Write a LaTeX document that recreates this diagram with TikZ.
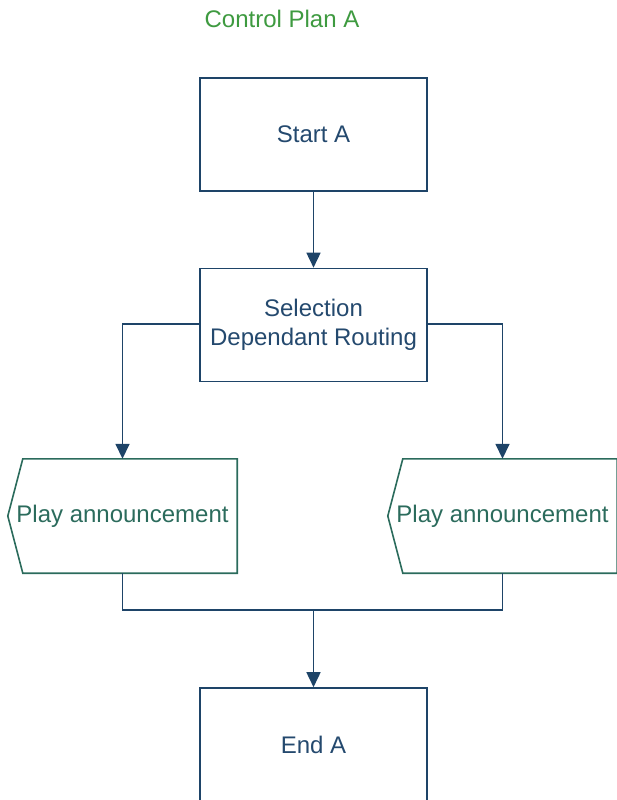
\documentclass[tikz,border=0pt]{standalone}
\usepackage{fontspec}
\setmainfont{Liberation Sans}
\usetikzlibrary{arrows.meta,calc}
\definecolor{navyline}{HTML}{1E4468}
\definecolor{navytext}{HTML}{24496E}
\definecolor{tealline}{HTML}{2B6B5C}
\definecolor{titlegreen}{HTML}{3E9A40}
\begin{document}
\begin{tikzpicture}[x=1pt,y=-1pt,
  lbl/.style={font=\fontsize{24}{29}\selectfont, align=center, inner sep=0pt},
  box/.style={lbl, draw=navyline, line width=1.6pt, text=navytext, minimum width=227pt, minimum height=113pt},
  playbox/.style={lbl, text=tealline, minimum width=229pt, minimum height=114pt},
  playline/.style={draw=tealline, line width=1.6pt, line join=miter},
  conn/.style={draw=navyline, line width=1.6pt},
  arr/.style={conn, -{Triangle[width=14pt,length=15pt]}}]
\useasboundingbox (0,0) rectangle (616,800);
\node[lbl, text=titlegreen] (title) at (282,19) {Control Plan A};
\node[box] (start) at (313.5,134.5) {Start A};
\node[box] (sel) at (313.5,325) {Selection\\Dependant Routing};
\node[box] (end) at (313.5,744.5) {End A};
\node[playbox] (pa) at (122.5,516) {Play announcement};
\node[playbox] (pb) at (502.5,516) {Play announcement};
\foreach \n in {pa,pb}{
  \draw[playline] (\n.north east) -- ([xshift=15pt]\n.north west) -- (\n.west)
     -- ([xshift=15pt]\n.south west) -- (\n.south east) -- cycle;
}
\coordinate (selL) at ($(sel.west)+(0,-1)$);
\coordinate (selR) at ($(sel.east)+(0,-1)$);
\coordinate (jm) at (313.5,610);
\draw[arr] (start.south) -- (sel.north);
\draw[arr] (selL) -| (pa.north);
\draw[arr] (selR) -| (pb.north);
\draw[conn] (pa.south) |- (jm);
\draw[conn] (pb.south) |- (jm);
\draw[arr] (jm) -- (end.north);
\end{tikzpicture}
\end{document}
